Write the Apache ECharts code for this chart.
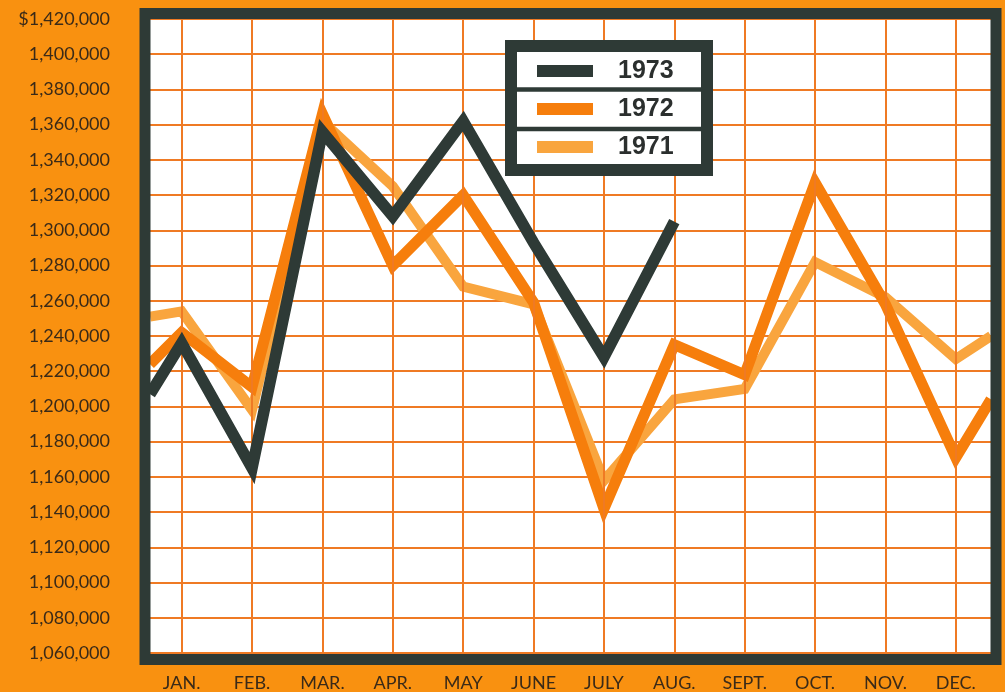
<!DOCTYPE html>
<html>
<head>
<meta charset="utf-8">
<script src="https://cdn.jsdelivr.net/npm/echarts@6/dist/echarts.min.js"></script>
<style>
html,body{margin:0;padding:0;background:#F99110;}
#chart{width:1005px;height:692px;}
</style>
</head>
<body>
<div id="chart"></div>
<script>
// ---- data ----
const months = ['JAN.', 'FEB.', 'MAR.', 'APR.', 'MAY', 'JUNE', 'JULY', 'AUG.', 'SEPT.', 'OCT.', 'NOV.', 'DEC.'];
const yTicks = [1060000, 1080000, 1100000, 1120000, 1140000, 1160000, 1180000, 1200000, 1220000,
  1240000, 1260000, 1280000, 1300000, 1320000, 1340000, 1360000, 1380000, 1400000, 1420000];
const v1973 = [1236000, 1165000, 1356000, 1308000, 1362000, 1293000, 1228000, 1305000, null, null, null, null];
const v1972 = [1242000, 1211000, 1366000, 1280000, 1320000, 1259000, 1142000, 1235000, 1218000, 1327000, 1258000, 1171000];
const v1971 = [1254000, 1198000, 1362000, 1325000, 1268000, 1258000, 1158000, 1204000, 1210000, 1282000, 1262000, 1227000];
// values where each line enters (left edge) / leaves (right edge) the plot
const v1973Edge = [1207000, null];
const v1972Edge = [1224000, 1204000];
const v1971Edge = [1251000, 1240000];

const XMIN = -0.45, XMAX = 11.5;
const BG = '#F99110', DARK = '#2E3A36', GRID = '#EF7A24';

function build(vals, edge) {
  const out = [];
  if (edge[0] != null) out.push([XMIN, edge[0]]);
  vals.forEach((v, i) => { if (v != null) out.push([i, v]); });
  if (edge[1] != null) out.push([XMAX, edge[1]]);
  return out;
}
function fmt(v) {
  const s = String(v).replace(/\B(?=(\d{3})+(?!\d))/g, ',');
  return v === yTicks[yTicks.length - 1] ? '$' + s : s;
}

const chart = echarts.init(document.getElementById('chart'), null, {renderer: 'canvas'});
const lineBase = {type: 'line', showSymbol: false, symbol: 'none', clip: true, animation: false, silent: true};

chart.setOption({
  backgroundColor: BG,
  animation: false,
  grid: {left: 150, right: 14, top: 19, bottom: 38, show: true, backgroundColor: '#ffffff', borderWidth: 0},
  xAxis: {
    type: 'value', min: XMIN, max: XMAX,
    axisLine: {show: false}, axisTick: {show: false}, splitLine: {show: false},
    axisLabel: {
      customValues: months.map((m, i) => i),
      formatter: v => months[Math.round(v)] || '',
      margin: 21, color: '#3a2a18', fontFamily: 'Lato', fontSize: 18
    }
  },
  yAxis: {
    type: 'value', min: yTicks[0], max: yTicks[yTicks.length - 1], interval: 20000,
    axisLine: {show: false}, axisTick: {show: false},
    splitLine: {lineStyle: {color: GRID, width: 2}},
    axisLabel: {formatter: fmt, margin: 40, color: '#3a2a18', fontFamily: 'Lato', fontSize: 18}
  },
  legend: {
    data: ['1973', '1972', '1971'],
    orient: 'vertical', left: 537, top: 58, padding: 0,
    icon: 'rect', itemWidth: 56, itemHeight: 12, itemGap: 12,
    selectedMode: false, z: 10,
    textStyle: {fontFamily: 'Liberation Sans', fontWeight: 'bold', fontSize: 25, color: '#2b2f2e', lineHeight: 26, padding: [0, 0, 0, 20]}
  },
  graphic: [
    {type: 'rect', z: 8, silent: true, shape: {x: 145, y: 13.5, width: 851, height: 646},
      style: {fill: 'none', stroke: DARK, lineWidth: 11}},
    {type: 'rect', z: 8, silent: true, shape: {x: 511, y: 46, width: 196, height: 124},
      style: {fill: '#ffffff', stroke: DARK, lineWidth: 12}},
    {type: 'line', z: 9, silent: true, shape: {x1: 517, y1: 89.5, x2: 701, y2: 89.5},
      style: {stroke: DARK, lineWidth: 4.5}},
    {type: 'line', z: 9, silent: true, shape: {x1: 517, y1: 129, x2: 701, y2: 129},
      style: {stroke: DARK, lineWidth: 4.5}}
  ],
  series: [
    Object.assign({}, lineBase, {
      name: 'grid', data: [], z: 1,
      markLine: {silent: true, symbol: ['none', 'none'], animation: false, label: {show: false},
        lineStyle: {color: GRID, width: 2, type: 'solid'},
        data: months.map((m, i) => ({xAxis: i}))}
    }),
    Object.assign({}, lineBase, {name: '1971', data: build(v1971, v1971Edge), z: 3,
      color: '#F9A53E', lineStyle: {width: 10, color: '#F9A53E', join: 'miter', miterLimit: 10}}),
    Object.assign({}, lineBase, {name: '1972', data: build(v1972, v1972Edge), z: 4,
      color: '#F67E0C', lineStyle: {width: 11, color: '#F67E0C', join: 'miter', miterLimit: 10}}),
    Object.assign({}, lineBase, {name: '1973', data: build(v1973, v1973Edge), z: 5,
      color: DARK, lineStyle: {width: 11.5, color: DARK, join: 'miter', miterLimit: 10}})
  ]
});
</script>
</body>
</html>
